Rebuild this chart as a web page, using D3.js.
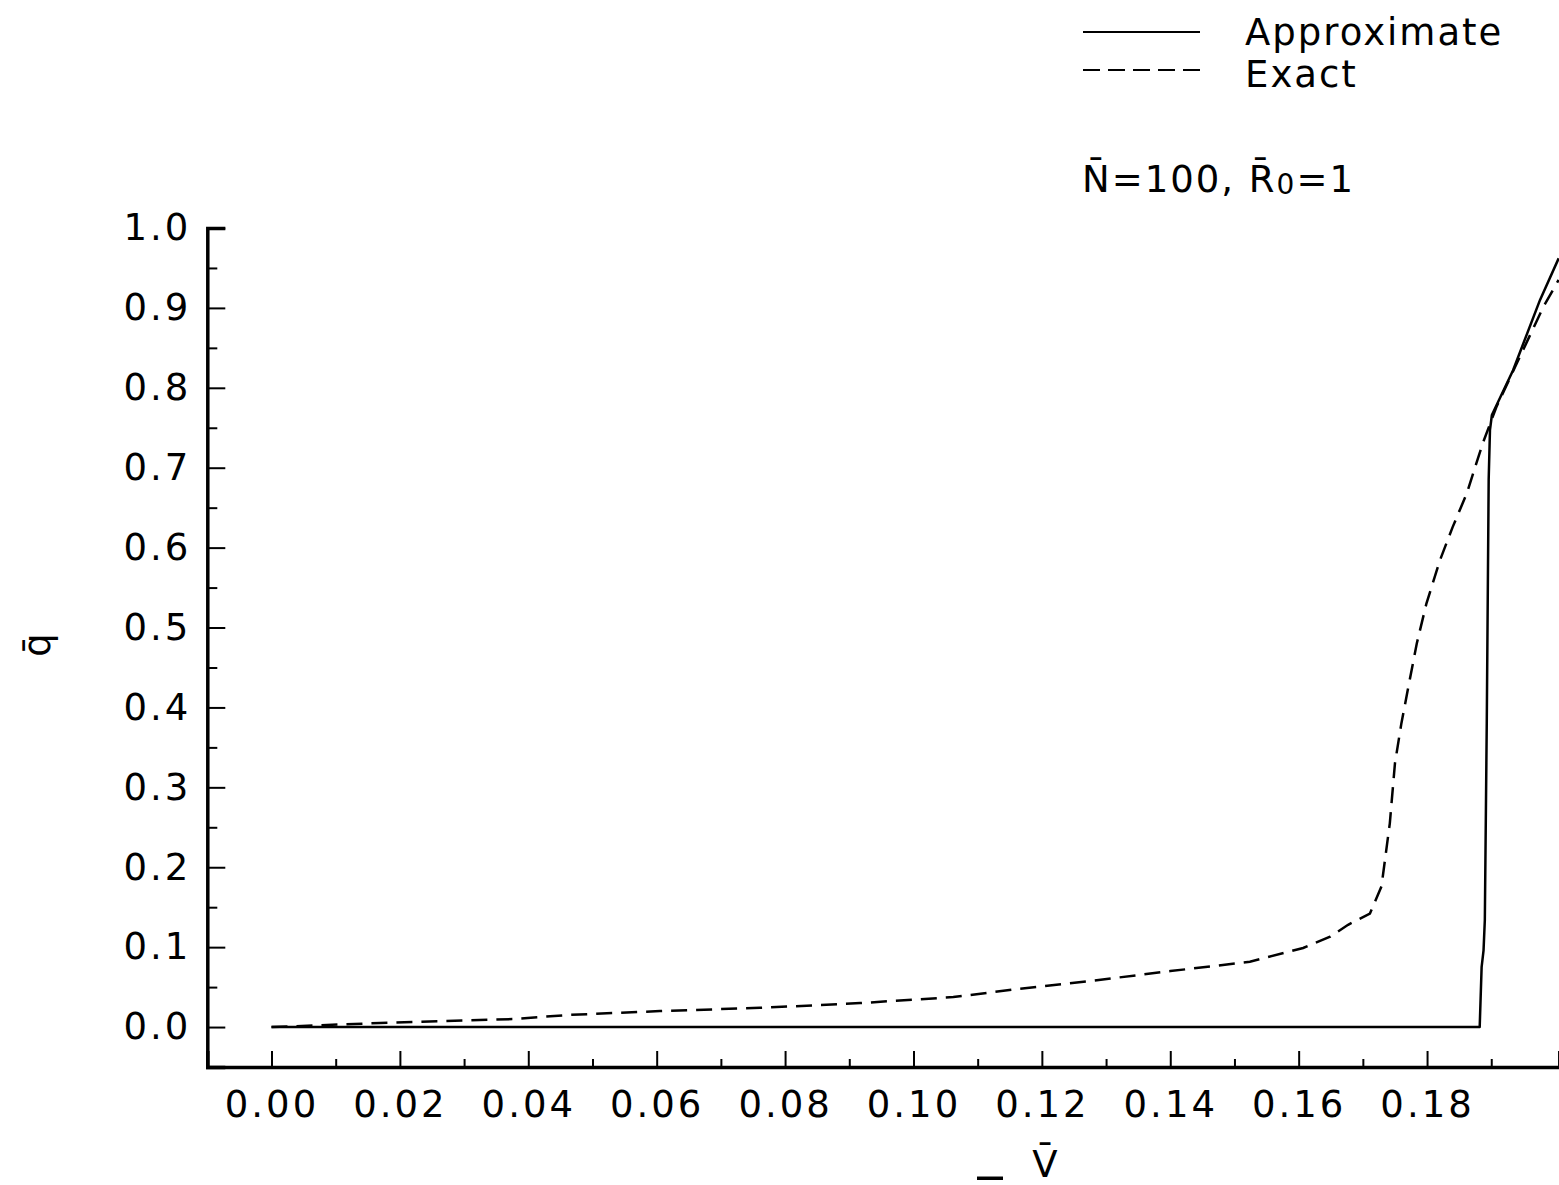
<!DOCTYPE html>
<html>
<head>
<meta charset="utf-8">
<script src="https://cdn.jsdelivr.net/npm/d3@7/dist/d3.min.js"></script>
<style>
  body { margin: 0; background: #fff; }
  svg { display: block; font-family: "DejaVu Sans", sans-serif; }
</style>
</head>
<body>
<svg id="chart" width="1559" height="1185"></svg>
<script>
// values
const approxV = [0, 0.1882, 0.1885, 0.1888, 0.1890, 0.1893, 0.1896, 0.1898, 0.1901, 0.1934, 0.1976, 0.2005];
const approxQ = [0, 0, 0.075, 0.096, 0.134, 0.380, 0.685, 0.747, 0.766, 0.822, 0.910, 0.962];

const exactV = [0, 0.0169, 0.0376, 0.046, 0.0605, 0.0761, 0.0917, 0.1062, 0.1161, 0.1275, 0.1400, 0.1524,
  0.1607, 0.1649, 0.1677, 0.1711, 0.1729, 0.1742, 0.1750, 0.1760, 0.1770, 0.1784, 0.1799, 0.1820,
  0.1840, 0.1862, 0.1877, 0.1887, 0.1908, 0.1940, 0.1981, 0.2005];
const exactQ = [0, 0.005, 0.010, 0.015, 0.020, 0.024, 0.030, 0.0375, 0.0475, 0.0576, 0.070, 0.0817,
  0.0989, 0.113, 0.128, 0.142, 0.176, 0.255, 0.330, 0.380, 0.422, 0.480, 0.530, 0.584,
  0.626, 0.668, 0.706, 0.731, 0.776, 0.831, 0.901, 0.935];

const xMajor = [0, 0.02, 0.04, 0.06, 0.08, 0.10, 0.12, 0.14, 0.16, 0.18];
const xMinor = [-0.01, 0.01, 0.03, 0.05, 0.07, 0.09, 0.11, 0.13, 0.15, 0.17, 0.19];
const yMajor = [0, 0.1, 0.2, 0.3, 0.4, 0.5, 0.6, 0.7, 0.8, 0.9, 1.0];
const yMinor = [0.05, 0.15, 0.25, 0.35, 0.45, 0.55, 0.65, 0.75, 0.85, 0.95];

const svg = d3.select('#chart');

const x = d3.scaleLinear().domain([-0.01, 0.2006]).range([207.3, 1559.3]);
const y = d3.scaleLinear().domain([-0.05, 1.0]).range([1067, 228]);

const fontSize = 37;

// x axis (ticks point up)
const gx = svg.append('g').attr('transform', `translate(0,${y(-0.05)})`);
gx.call(d3.axisBottom(x).tickValues(xMajor).tickSize(-16).tickPadding(24)
  .tickFormat(d3.format('.2f')));
gx.append('g').call(d3.axisBottom(x).tickValues(xMinor).tickSize(-8).tickFormat(''))
  .select('.domain').remove();

// y axis (ticks point right)
const gy = svg.append('g').attr('transform', `translate(${x(-0.01)},0)`);
gy.call(d3.axisLeft(y).tickValues(yMajor).tickSize(-18).tickPadding(16)
  .tickFormat(d3.format('.1f')));
gy.append('g').call(d3.axisLeft(y).tickValues(yMinor).tickSize(-10).tickFormat(''))
  .select('.domain').remove();

svg.selectAll('.domain').attr('stroke', '#000').attr('stroke-width', 3.5);
svg.selectAll('.tick line').attr('stroke', '#000').attr('stroke-width', 2);
svg.selectAll('.tick text')
  .attr('fill', '#000')
  .style('font-size', fontSize + 'px')
  .style('font-family', '"DejaVu Sans", sans-serif')
  .style('letter-spacing', '3px');

// curves
const line = d3.line().x(d => x(d[0])).y(d => y(d[1]));

svg.append('path')
  .datum(approxV.map((v, i) => [v, approxQ[i]]))
  .attr('d', line)
  .attr('fill', 'none')
  .attr('stroke', '#000')
  .attr('stroke-width', 2.5)
  .attr('stroke-linejoin', 'round');

svg.append('path')
  .datum(exactV.map((v, i) => [v, exactQ[i]]))
  .attr('d', line)
  .attr('fill', 'none')
  .attr('stroke', '#000')
  .attr('stroke-width', 2.5)
  .attr('stroke-dasharray', '16,9');

// legend
const legend = svg.append('g');
legend.append('line').attr('x1', 1083).attr('x2', 1200).attr('y1', 32).attr('y2', 32)
  .attr('stroke', '#000').attr('stroke-width', 2);
legend.append('line').attr('x1', 1083).attr('x2', 1200).attr('y1', 70).attr('y2', 70)
  .attr('stroke', '#000').attr('stroke-width', 2).attr('stroke-dasharray', '17,8');
legend.append('text').attr('x', 1245).attr('y', 45).text('Approximate')
  .style('font-size', fontSize + 'px').style('letter-spacing', '2px');
legend.append('text').attr('x', 1245).attr('y', 87).text('Exact')
  .style('font-size', fontSize + 'px').style('letter-spacing', '2px');

// parameters note
const note = svg.append('text').attr('x', 1082).attr('y', 192)
  .style('font-size', fontSize + 'px').style('letter-spacing', '2px');
note.append('tspan').text('N\u0304=100, R\u0304');
note.append('tspan').text('0').style('font-size', '28px').attr('dy', 2);
note.append('tspan').text('=1').attr('dy', -2);

// axis titles
svg.append('text')
  .attr('transform', 'translate(50,645) rotate(-90)')
  .attr('text-anchor', 'middle')
  .style('font-size', fontSize + 'px')
  .text('q\u0304');

svg.append('text')
  .attr('x', 1045).attr('y', 1177)
  .attr('text-anchor', 'middle')
  .style('font-size', '37px')
  .text('V\u0304');

svg.append('text')
  .attr('x', 990).attr('y', 1168)
  .attr('text-anchor', 'middle')
  .style('font-size', '50px')
  .text('_');
</script>
</body>
</html>
